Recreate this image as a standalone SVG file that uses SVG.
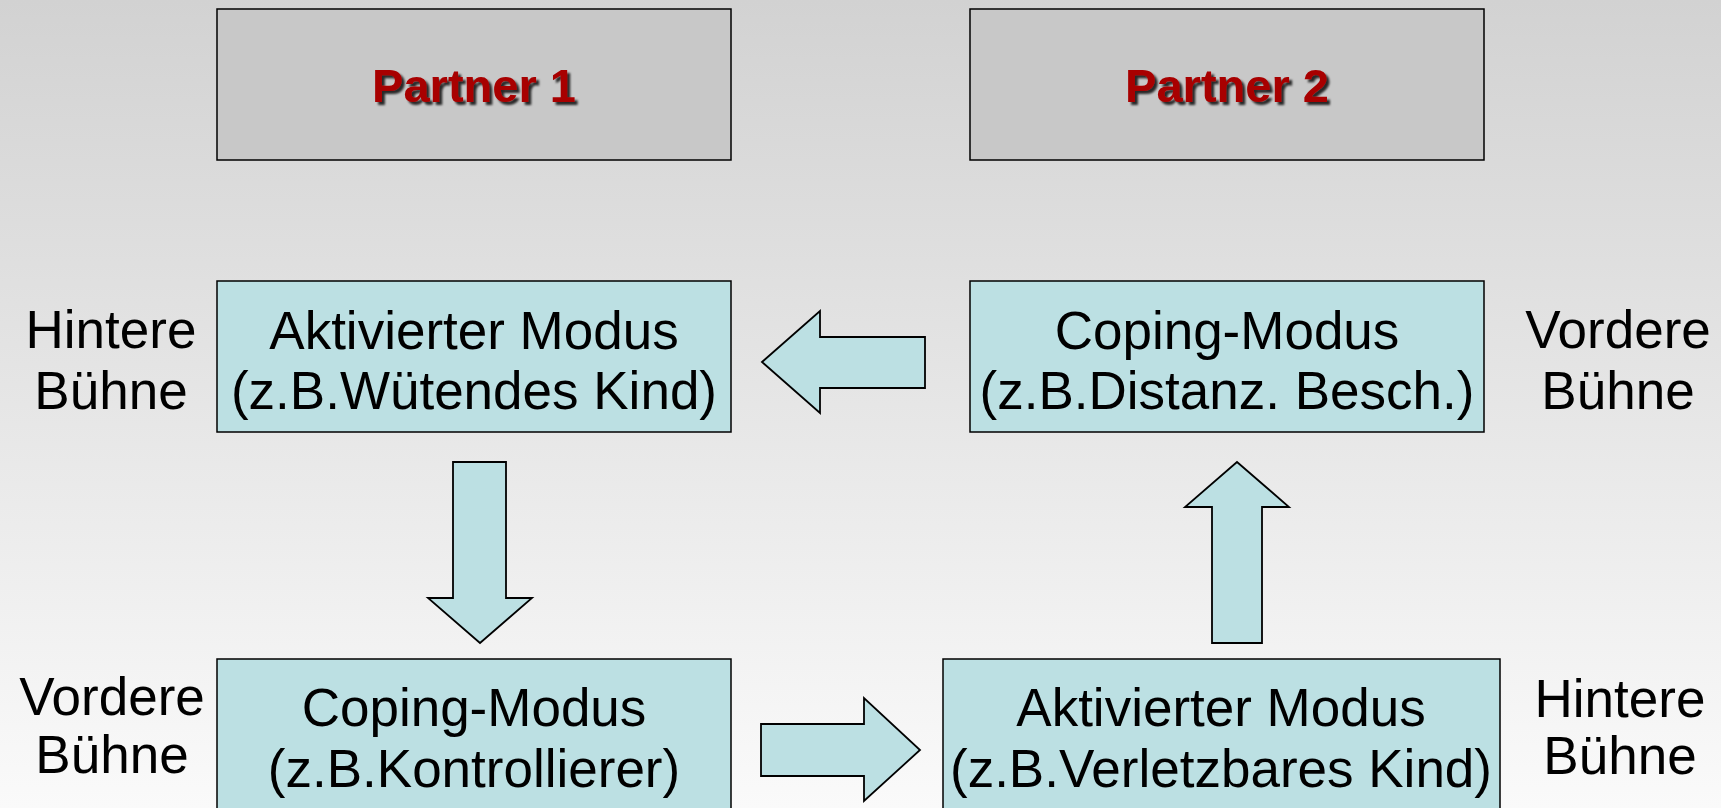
<svg xmlns="http://www.w3.org/2000/svg" width="1721" height="808" viewBox="0 0 1721 808">
  <defs>
    <linearGradient id="bg" x1="0" y1="0" x2="0" y2="1">
      <stop offset="0" stop-color="#d2d2d2"/>
      <stop offset="1" stop-color="#fafafa"/>
    </linearGradient>
    <filter id="shadow" x="-10%" y="-10%" width="120%" height="130%">
      <feGaussianBlur in="SourceAlpha" stdDeviation="0.8" result="b"/>
      <feOffset in="b" dx="2.5" dy="2.5" result="o"/>
      <feFlood flood-color="#000" flood-opacity="0.8"/>
      <feComposite in2="o" operator="in" result="s"/>
      <feMerge><feMergeNode in="s"/><feMergeNode in="SourceGraphic"/></feMerge>
    </filter>
  </defs>
  <style>
    .hdr { fill: #c8c8c8; stroke: #000; stroke-width: 1.5; }
    .box { fill: #bce0e3; stroke: #000; stroke-width: 1.5; }
    .arrow { fill: #bce0e3; stroke: #000; stroke-width: 1.8; stroke-linejoin: miter; }
    .ptxt { font-family: "Liberation Sans", Arial, sans-serif; font-weight: bold; font-size: 47px; fill: #a80000; text-anchor: middle; }
    .txt { font-family: "Liberation Sans", Arial, sans-serif; font-size: 53px; fill: #000; text-anchor: middle; }
  </style>
  <rect x="0" y="0" width="1721" height="808" fill="url(#bg)"/>

  <g id="partner1">
    <rect class="hdr" x="217" y="9" width="514" height="151"/>
    <text class="ptxt" x="474" y="102" filter="url(#shadow)">Partner 1</text>
  </g>
  <g id="partner2">
    <rect class="hdr" x="970" y="9" width="514" height="151"/>
    <text class="ptxt" x="1227" y="102" filter="url(#shadow)">Partner 2</text>
  </g>

  <g id="aktiv1">
    <rect class="box" x="217" y="281" width="514" height="151"/>
    <text class="txt" x="474" y="349">Aktivierter Modus</text>
    <text class="txt" x="474" y="409">(z.B.Wütendes Kind)</text>
  </g>
  <g id="coping2">
    <rect class="box" x="970" y="281" width="514" height="151"/>
    <text class="txt" x="1227" y="349">Coping-Modus</text>
    <text class="txt" x="1227" y="409">(z.B.Distanz. Besch.)</text>
  </g>
  <g id="coping1">
    <rect class="box" x="217" y="659" width="514" height="170"/>
    <text class="txt" x="474" y="726">Coping-Modus</text>
    <text class="txt" x="474" y="787">(z.B.Kontrollierer)</text>
  </g>
  <g id="aktiv2">
    <rect class="box" x="943" y="659" width="557" height="170"/>
    <text class="txt" x="1221" y="726">Aktivierter Modus</text>
    <text class="txt" x="1221" y="787">(z.B.Verletzbares Kind)</text>
  </g>

  <g id="label-hinten1">
    <text class="txt" x="111" y="348">Hintere</text>
    <text class="txt" x="111" y="409">Bühne</text>
  </g>
  <g id="label-vorne2">
    <text class="txt" x="1618" y="348">Vordere</text>
    <text class="txt" x="1618" y="409">Bühne</text>
  </g>
  <g id="label-vorne1">
    <text class="txt" x="112" y="715">Vordere</text>
    <text class="txt" x="112" y="773">Bühne</text>
  </g>
  <g id="label-hinten2">
    <text class="txt" x="1620" y="717">Hintere</text>
    <text class="txt" x="1620" y="774">Bühne</text>
  </g>

  <g id="connectors">
    <polygon class="arrow" points="762,362 820,311 820,337 925,337 925,388 820,388 820,413"/>
    <polygon class="arrow" points="453,462 506,462 506,598 532,598 480,643 428,598 453,598"/>
    <polygon class="arrow" points="1237,462 1289,507 1262,507 1262,643 1212,643 1212,507 1185,507"/>
    <polygon class="arrow" points="761,724 864,724 864,698 920,750 864,801 864,776 761,776"/>
  </g>
</svg>
